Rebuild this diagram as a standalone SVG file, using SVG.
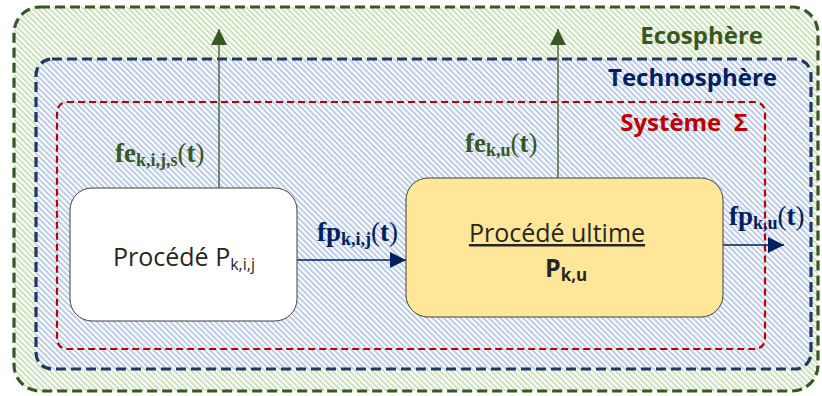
<svg xmlns="http://www.w3.org/2000/svg" width="822" height="396" viewBox="0 0 822 396">
<defs>
<pattern id="hg" width="4" height="4" patternUnits="userSpaceOnUse" patternTransform="rotate(-45)">
<rect width="4" height="4" fill="#ffffff"/>
<rect width="1.8" height="4" fill="#c5e0b4"/>
</pattern>
<pattern id="hb" width="4" height="4" patternUnits="userSpaceOnUse" patternTransform="rotate(-45)">
<rect width="4" height="4" fill="#ffffff"/>
<rect width="1.8" height="4" fill="#b4c7e7"/>
</pattern>
<marker id="ag" viewBox="0 0 10 10" refX="10" refY="5" markerWidth="16" markerHeight="16" markerUnits="userSpaceOnUse" orient="auto">
<path d="M0,0 L10,5 L0,10 z" fill="#385723"/>
</marker>
<marker id="an" viewBox="0 0 10 10" refX="10" refY="5" markerWidth="16" markerHeight="16" markerUnits="userSpaceOnUse" orient="auto">
<path d="M0,0 L10,5 L0,10 z" fill="#002060"/>
</marker>
</defs>
<style>
.lbl{font-family:"Open Sans","Noto Sans",sans-serif;font-weight:bold;font-size:24px}
.math{font-family:"Liberation Serif","DejaVu Serif",serif;font-weight:bold}
.par{font-weight:normal}
.box{font-family:"Open Sans","Noto Sans",sans-serif;fill:#262626}
</style>
<g id="ecosphere">
<rect x="14" y="7" width="804" height="384" rx="26" fill="url(#hg)" stroke="#385723" stroke-width="3.2" stroke-dasharray="10,5"/>
<text class="lbl" x="763" y="44" text-anchor="end" fill="#385723">Ecosphère</text>
</g>
<g id="technosphere">
<rect x="36" y="59" width="775" height="310" rx="16" fill="url(#hb)" stroke="#203864" stroke-width="3.2" stroke-dasharray="10,5"/>
<text class="lbl" x="777" y="86" text-anchor="end" fill="#002060">Technosphère</text>
</g>
<g id="systeme">
<rect x="57" y="102" width="708" height="247" rx="10" fill="none" stroke="#c00000" stroke-width="2.2" stroke-dasharray="7,4"/>
<text class="lbl" x="748" y="131" text-anchor="end" fill="#c00000" xml:space="preserve">Système  Σ</text>
</g>
<g id="connectors" fill="none">
<line x1="219" y1="188" x2="219" y2="29" stroke="#385723" stroke-width="1.3" marker-end="url(#ag)"/>
<line x1="558" y1="178" x2="558" y2="29" stroke="#385723" stroke-width="1.3" marker-end="url(#ag)"/>
<line x1="297" y1="260" x2="406" y2="260" stroke="#002060" stroke-width="1.3" marker-end="url(#an)"/>
<line x1="723" y1="245" x2="784" y2="245" stroke="#002060" stroke-width="1.3" marker-end="url(#an)"/>
</g>
<g id="labels">
<text class="math" x="115" y="162" fill="#385723"><tspan font-size="27">fe</tspan><tspan font-size="18" dy="4">k,i,j,s</tspan><tspan font-size="27" dy="-4" class="par">(</tspan><tspan font-size="27">t</tspan><tspan font-size="27" class="par">)</tspan></text>
<text class="math" x="465" y="152" fill="#385723"><tspan font-size="27">fe</tspan><tspan font-size="18" dy="4">k,u</tspan><tspan font-size="27" dy="-4" class="par">(</tspan><tspan font-size="27">t</tspan><tspan font-size="27" class="par">)</tspan></text>
<text class="math" x="317" y="241" fill="#002060"><tspan font-size="27">fp</tspan><tspan font-size="18" dy="4">k,i,j</tspan><tspan font-size="27" dy="-4" class="par">(</tspan><tspan font-size="27">t</tspan><tspan font-size="27" class="par">)</tspan></text>
<text class="math" x="729" y="225" fill="#002060"><tspan font-size="27">fp</tspan><tspan font-size="18" dy="4">k,u</tspan><tspan font-size="27" dy="-4" class="par">(</tspan><tspan font-size="27">t</tspan><tspan font-size="27" class="par">)</tspan></text>
</g>
<g id="procede-kij">
<rect x="70" y="188" width="227" height="133" rx="22" fill="#ffffff" stroke="#404040" stroke-width="1"/>
<text class="box" x="113" y="266" font-size="25">Procédé P<tspan font-size="16" dy="4">k,i,j</tspan></text>
</g>
<g id="procede-ultime">
<rect x="406" y="178" width="317" height="139" rx="22" fill="#ffe699" stroke="#404040" stroke-width="1"/>
<text class="box" x="557" y="242" font-size="25" text-anchor="middle" text-decoration="underline">Procédé ultime</text>
<text class="box" x="545" y="277" font-size="25" font-weight="bold">P<tspan font-size="17" dy="4">k,u</tspan></text>
</g>
</svg>
